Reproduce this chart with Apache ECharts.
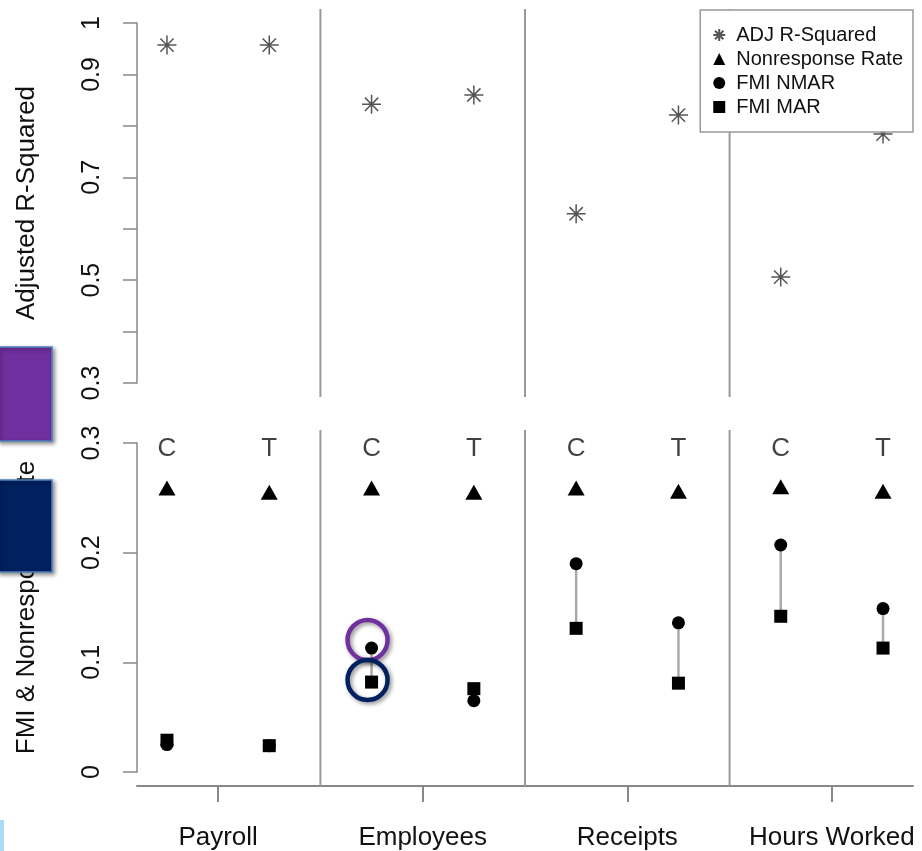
<!DOCTYPE html>
<html><head><meta charset="utf-8">
<script src="https://cdn.jsdelivr.net/npm/echarts@6/dist/echarts.min.js"></script>
<style>html,body{margin:0;padding:0;background:#fff}#c{width:922px;height:851px}</style>
</head><body><div id="c"></div>
<script>
// ---- data ----
const groups = ['Payroll', 'Employees', 'Receipts', 'Hours Worked'];
const modelLabels = ['C', 'T', 'C', 'T', 'C', 'T', 'C', 'T'];
const xPos = [1, 2, 3, 4, 5, 6, 7, 8];
const adjR2 = [0.957, 0.957, 0.842, 0.860, 0.629, 0.821, 0.506, 0.784];
const nonresp = [0.259, 0.255, 0.259, 0.255, 0.259, 0.256, 0.260, 0.256];
const fmiNMAR = [0.025, 0.024, 0.113, 0.065, 0.190, 0.136, 0.207, 0.149];
const fmiMAR = [0.029, 0.024, 0.082, 0.076, 0.131, 0.081, 0.142, 0.113];
const groupCenters = [1.5, 3.5, 5.5, 7.5];
const separators = [2.5, 4.5, 6.5];
const topTickLabels = [0.3, 0.5, 0.7, 0.9, 1];
const labelY = 0.295;

const FONT = "'Liberation Sans', Arial, sans-serif";
const starPath = 'path://M10,0L10,20M0,10L20,10M3,3L17,17M3,17L17,3';

const chart = echarts.init(document.getElementById('c'), null, {renderer: 'canvas'});

const xBase = {type: 'value', min: 0.707, max: 8.293, show: false};
const L = 137, W = 776;

function yAxisVis(gi, min, max, labels, name) {
  return {
    type: 'value', gridIndex: gi, min: min, max: max, interval: 0.1,
    axisLine: {show: true, lineStyle: {color: '#888', width: 1.5}},
    axisTick: {show: true, length: 14, lineStyle: {color: '#888', width: 1.5}},
    axisLabel: Object.assign({
      rotate: 90, fontSize: 25, fontFamily: FONT, color: '#111', margin: 32
    }, labels ? {customValues: labels} : {}),
    splitLine: {show: false},
    name: name, nameLocation: 'middle', nameRotate: 90, nameGap: 97,
    nameTextStyle: {fontSize: 26, fontFamily: FONT, color: '#111'}
  };
}

function sepSeries(gi) {
  return {
    type: 'custom', xAxisIndex: gi, yAxisIndex: gi, silent: true, z: 1,
    data: separators.map(v => [v, 0, 1]),
    encode: {x: 0, y: [1, 2]},
    renderItem: (p, api) => {
      const a = api.coord([api.value(0), api.value(1)]);
      const b = api.coord([api.value(0), api.value(2)]);
      return {type: 'line', shape: {x1: a[0], y1: a[1], x2: b[0], y2: b[1]},
        style: {stroke: '#999', lineWidth: 2}};
    }
  };
}

const option = {
  backgroundColor: '#fff',
  animation: false,
  textStyle: {fontFamily: FONT},
  grid: [
    {left: L, width: W, top: 23, height: 360},
    {left: L, width: W, top: 9, height: 388},
    {left: L, width: W, top: 443, height: 329},
    {left: L, width: W, top: 430, height: 356}
  ],
  xAxis: [
    Object.assign({gridIndex: 0}, xBase),
    Object.assign({gridIndex: 1}, xBase),
    Object.assign({gridIndex: 2}, xBase),
    {
      type: 'value', gridIndex: 3, min: 0.707, max: 8.293, show: true,
      axisLine: {show: true, onZero: false, lineStyle: {color: '#888', width: 2}},
      axisTick: {show: true, length: 16, customValues: groupCenters, lineStyle: {color: '#888', width: 2}},
      axisLabel: {customValues: groupCenters, fontSize: 26, fontFamily: FONT, color: '#111', margin: 39,
        formatter: v => groups[Math.round((v - 1.5) / 2)]},
      splitLine: {show: false}
    }
  ],
  yAxis: [
    yAxisVis(0, 0.3, 1, topTickLabels, 'Adjusted R-Squared'),
    {type: 'value', gridIndex: 1, min: 0, max: 1, show: false},
    yAxisVis(2, 0, 0.3, null, 'FMI & Nonresponse Rate'),
    {type: 'value', gridIndex: 3, min: 0, max: 1, show: false}
  ],
  legend: {
    data: ['ADJ R-Squared', 'Nonresponse Rate', 'FMI NMAR', 'FMI MAR'],
    orient: 'vertical', right: 9, top: 10,
    backgroundColor: '#fff', borderColor: '#999', borderWidth: 1.5, borderRadius: 0,
    padding: [15, 10, 15, 12], itemGap: 4, itemWidth: 12, itemHeight: 12,
    textStyle: {fontSize: 20, fontFamily: FONT, color: '#111', lineHeight: 20, padding: [0, 0, 0, 6]},
    selectedMode: false
  },
  series: [
    sepSeries(1),
    sepSeries(3),
    {
      name: 'ADJ R-Squared', type: 'scatter', xAxisIndex: 0, yAxisIndex: 0,
      symbol: starPath, symbolSize: 19,
      itemStyle: {color: 'rgba(0,0,0,0)', borderColor: '#555', borderWidth: 1.5, opacity: 1},
      data: xPos.map((x, i) => [x, adjR2[i]]), z: 3
    },
    {
      type: 'custom', name: 'segments', xAxisIndex: 2, yAxisIndex: 2, silent: true, z: 2,
      data: xPos.map((x, i) => [x, fmiNMAR[i], fmiMAR[i]]),
      encode: {x: 0, y: [1, 2]},
      renderItem: (p, api) => {
        const a = api.coord([api.value(0), api.value(1)]);
        const b = api.coord([api.value(0), api.value(2)]);
        return {type: 'line', shape: {x1: a[0], y1: a[1], x2: b[0], y2: b[1]},
          style: {stroke: '#aaa', lineWidth: 2.5}};
      }
    },
    {
      name: 'Nonresponse Rate', type: 'scatter', xAxisIndex: 2, yAxisIndex: 2,
      symbol: 'triangle', symbolSize: [17, 15], itemStyle: {color: '#000', opacity: 1},
      data: xPos.map((x, i) => [x, nonresp[i]]), z: 3
    },
    {
      name: 'FMI NMAR', type: 'scatter', xAxisIndex: 2, yAxisIndex: 2,
      symbol: 'circle', symbolSize: 13, itemStyle: {color: '#000', opacity: 1},
      data: xPos.map((x, i) => [x, fmiNMAR[i]]), z: 3
    },
    {
      name: 'FMI MAR', type: 'scatter', xAxisIndex: 2, yAxisIndex: 2,
      symbol: 'rect', symbolSize: 13, itemStyle: {color: '#000', opacity: 1},
      data: xPos.map((x, i) => [x, fmiMAR[i]]), z: 4
    },
    {
      type: 'scatter', name: 'labels', xAxisIndex: 2, yAxisIndex: 2, silent: true,
      symbolSize: 1, itemStyle: {color: 'rgba(0,0,0,0)'},
      label: {show: true, position: 'inside', fontSize: 26, fontFamily: FONT, color: '#111',
        formatter: p => modelLabels[p.dataIndex]},
      data: xPos.map((x, i) => [x, labelY]), z: 3
    }
  ]
};
chart.setOption(option);

// ---- slide annotations ----
const pN = chart.convertToPixel({gridIndex: 2}, [xPos[2], fmiNMAR[2]]);
const pM = chart.convertToPixel({gridIndex: 2}, [xPos[2], fmiMAR[2]]);
const shadow = {shadowBlur: 4, shadowColor: 'rgba(0,0,0,0.45)', shadowOffsetX: 2, shadowOffsetY: 2};
chart.setOption({
  graphic: [
    {type: 'rect', z: 100, shape: {x: -2, y: 347, width: 54, height: 94},
      style: Object.assign({fill: '#7030A0', stroke: '#4F81BD', lineWidth: 1.5}, shadow)},
    {type: 'rect', z: 100, shape: {x: -2, y: 480, width: 54, height: 92},
      style: Object.assign({fill: '#002060', stroke: '#4F81BD', lineWidth: 1.5}, shadow)},
    {type: 'rect', z: 100, shape: {x: 0, y: 820, width: 4, height: 31},
      style: {fill: '#a6dcf5'}},
    {type: 'circle', z: 100, shape: {cx: pN[0] - 4, cy: pN[1] - 8, r: 20},
      style: Object.assign({fill: 'none', stroke: '#7030A0', lineWidth: 4.5}, shadow)},
    {type: 'circle', z: 100, shape: {cx: pM[0] - 4, cy: pM[1] - 2, r: 20},
      style: Object.assign({fill: 'none', stroke: '#002060', lineWidth: 4.5}, shadow)}
  ]
});
</script></body></html>
